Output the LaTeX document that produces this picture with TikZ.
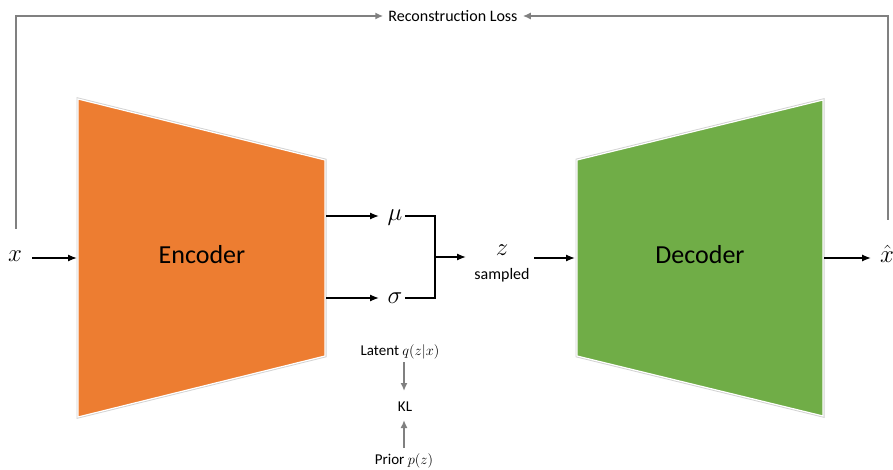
\documentclass[tikz,border=0pt]{standalone}
\usepackage{fontspec}
\setmainfont{Carlito}
\usetikzlibrary{arrows.meta}
\definecolor{encfill}{HTML}{ED7D31}
\definecolor{decfill}{HTML}{70AD47}
\definecolor{lossgray}{HTML}{808080}
\tikzset{
  blockedge/.style={draw=gray!35, line width=3pt, line join=miter},
  blockbody/.style={draw=white, line width=1.2pt, line join=miter},
  flow/.style={-{Latex[length=9pt,width=7pt]}, line width=1.3pt, black},
  loss/.style={-{Latex[length=8pt,width=7pt]}, line width=1.6pt, lossgray},
  bigmath/.style={font=\fontsize{29}{32}\selectfont, inner sep=0pt},
  blocklabel/.style={font=\fontsize{26}{30}\selectfont, inner sep=0pt},
  smalltext/.style={font=\fontsize{15}{18}\selectfont, inner sep=0pt},
}
\begin{document}
\begin{tikzpicture}[x=1pt, y=-1pt]
  \useasboundingbox (0,0) rectangle (893,470);

  % encoder trapezoid
  \coordinate (e1) at (78,99);
  \coordinate (e2) at (325,160);
  \coordinate (e3) at (325,356);
  \coordinate (e4) at (78,417);
  \draw[blockedge] (e1) -- (e2) -- (e3) -- (e4) -- cycle;
  \fill[encfill] (e1) -- (e2) -- (e3) -- (e4) -- cycle;
  \draw[blockbody] (e1) -- (e2) -- (e3) -- (e4) -- cycle;
  \node[blocklabel] (enc) at (202,255) {Encoder};

  % decoder trapezoid
  \coordinate (d1) at (577,160);
  \coordinate (d2) at (823,100);
  \coordinate (d3) at (823,416);
  \coordinate (d4) at (577,356);
  \draw[blockedge] (d1) -- (d2) -- (d3) -- (d4) -- cycle;
  \fill[decfill] (d1) -- (d2) -- (d3) -- (d4) -- cycle;
  \draw[blockbody] (d1) -- (d2) -- (d3) -- (d4) -- cycle;
  \node[blocklabel] (dec) at (700,255) {Decoder};

  % input and output
  \node[bigmath] (x) at (15,256) {$x$};
  \node[bigmath] (xhat) at (887,254) {$\hat{x}$};
  \coordinate (encin) at (77,258);
  \coordinate (decout) at (824,258);
  \coordinate (decin) at (575,258);
  \draw[flow] (32,258) coordinate (xr) -- (encin);
  \draw[flow] (decout) -- (871,258) coordinate (xhl);

  % latent parameters
  \node[bigmath] (mu) at (395,218) {$\mu$};
  \node[bigmath] (sigma) at (395,298) {$\sigma$};
  \coordinate (mul) at (326,216);
  \coordinate (sigl) at (326,298);
  \draw[flow] (mul) -- (379,216);
  \draw[flow] (sigl) -- (379,298);
  \coordinate (join) at (435,257);
  \draw[line width=1.3pt, line join=miter] (405,216) -- (435,216) -- (435,298) -- (405,298);
  \draw[flow] (join) -- (466,257);

  % sampled code
  \node[bigmath] (z) at (502,250) {$z$};
  \node[font=\fontsize{16}{18}\selectfont, inner sep=0pt] (samp) at (502,275) {sampled};
  \draw[flow] (534,258) -- (decin);

  % KL term
  \node[smalltext] (lat) at (400,352) {Latent $q(z|x)$};
  \node[smalltext] (kl) at (405,407) {KL};
  \node[smalltext] (prior) at (404,461) {Prior $p(z)$};
  \coordinate (latfoot) at (404,362);
  \coordinate (kltop) at (404,391);
  \coordinate (priorhead) at (404,448);
  \coordinate (klbot) at (404,420);
  \draw[loss] (latfoot) -- (kltop);
  \draw[loss] (priorhead) -- (klbot);

  % reconstruction loss
  \node[font=\fontsize{16}{18}\selectfont, inner sep=0pt] (rec) at (453,16) {Reconstruction Loss};
  \draw[loss] (16,229) |- ([xshift=-5pt]rec.west);
  \draw[loss] (888,220) |- ([xshift=5pt]rec.east);
\end{tikzpicture}
\end{document}
